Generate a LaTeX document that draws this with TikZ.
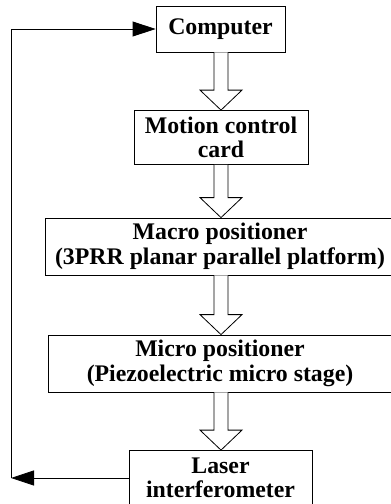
\documentclass[tikz,border=0pt]{standalone}
\usepackage{fontspec}
\setmainfont{Liberation Serif}
\usetikzlibrary{calc,arrows.meta}
\begin{document}
\begin{tikzpicture}[x=1pt,y=-1pt,
  blk/.style={draw=black,line width=0.8pt,inner sep=0pt,align=center,
    font=\fontsize{23.8}{24.5}\selectfont\bfseries},
  fb/.style={draw=black,line width=0.8pt,-{Triangle[length=23pt,width=15pt]}},
  hollow/.style={draw=black,line width=0.8pt,fill=white,line join=miter}]
\path[use as bounding box] (0,0) rectangle (391,504);
\clip (0,0) rectangle (391,504);
\node[blk,minimum width=129pt,minimum height=46pt] (comp) at (220.5,29) {Computer};
\node[blk,minimum width=174pt,minimum height=54pt] (card) at (221,137.5) {Motion control\\card};
\node[blk,minimum width=350pt,minimum height=57pt] (macro) at (220,246.5) {Macro positioner\\(3PRR planar parallel platform)};
\node[blk,minimum width=344pt,minimum height=57pt] (micro) at (220,363.5) {Micro positioner\\(Piezoelectric micro stage)};
\node[blk,minimum width=183pt,minimum height=55pt] (laser) at (220.5,478) {Laser\\interferometer};
\coordinate (fbl) at (11,478);
\newcommand{\fatarrow}[2]{%
  \draw[hollow] ($(#1.south -| 221,0)+(-7,0)$) -- ($(#2.north -| 221,0)+(-7,-20)$)
    -- ($(#2.north -| 221,0)+(-21,-20)$) -- (#2.north -| 221,0)
    -- ($(#2.north -| 221,0)+(21,-20)$) -- ($(#2.north -| 221,0)+(7,-20)$)
    -- ($(#1.south -| 221,0)+(7,0)$);}
\fatarrow{comp}{card}
\fatarrow{card}{macro}
\fatarrow{macro}{micro}
\fatarrow{micro}{laser}
\draw[fb] (laser.west) -- (fbl);
\draw[fb] (fbl) |- (comp.west);
\end{tikzpicture}
\end{document}
